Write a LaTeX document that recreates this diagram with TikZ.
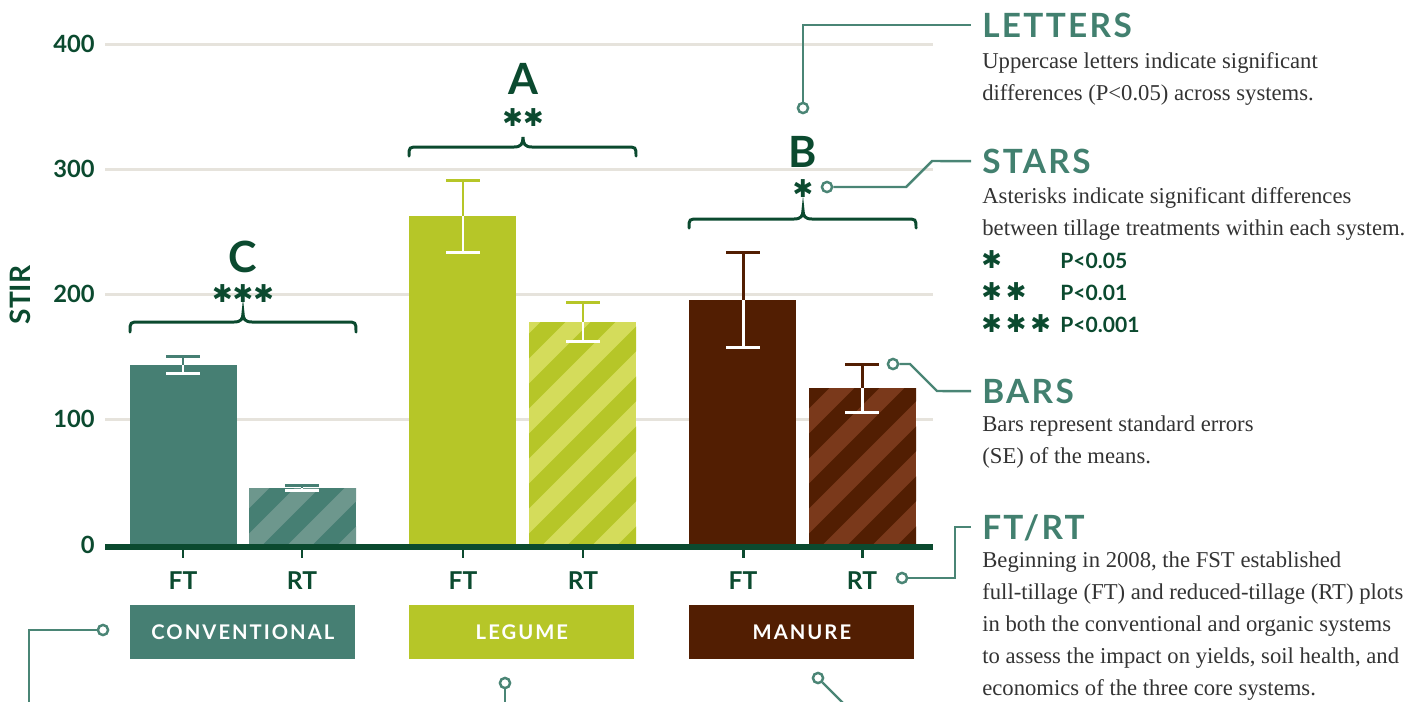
\documentclass[tikz,border=0pt]{standalone}
\usepackage{fontspec}
\setmainfont{Liberation Serif}
\newfontfamily\sansbf{Lato}[UprightFont=* Bold]
\newfontfamily\headbf{Lato}[UprightFont=* Bold, LetterSpace=7]
\newfontfamily\catbf{Lato}[UprightFont=* Bold, LetterSpace=10]
\newfontfamily\starfont{DejaVu Sans}

\definecolor{stirgreen}{HTML}{0B4A2F}
\definecolor{convteal}{HTML}{467F73}
\definecolor{convlight}{HTML}{6D978D}
\definecolor{legfill}{HTML}{B6C628}
\definecolor{leglight}{HTML}{D4DC5B}
\definecolor{manfill}{HTML}{521E02}
\definecolor{manlight}{HTML}{7A391B}
\definecolor{callteal}{HTML}{4A8575}
\definecolor{headteal}{HTML}{42806F}
\definecolor{gridgray}{HTML}{E6E3DC}
\definecolor{bodygray}{HTML}{333333}

% plain bar, hatched bar and error bar (x0, x1, top, ...)
\newcommand{\plainbar}[4]{\fill[#4] (#1,546) rectangle (#2,#3);}
\newcommand{\hatchbar}[5]{%
  \fill[#4] (#1,546) rectangle (#2,#3);
  \begin{scope}
    \clip (#1,546) rectangle (#2,#3);
    \foreach \c in {-450,-400,...,150}
      \draw[#5, line width=10pt] (#1+\c-60,606) -- (#1+\c+400,146);
  \end{scope}}
\newcommand{\errbar}[5]{%
  \draw[#5, line width=1.7pt] (#1,#2) -- (#1,#4);
  \draw[#5, line width=1.7pt] (#1-17,#2) -- (#1+17,#2);
  \draw[white, line width=1.7pt] (#1,#4) -- (#1,#3);
  \draw[white, line width=1.7pt] (#1-17,#3) -- (#1+17,#3);}
% curly bracket: x0, x1, xm, y of line, y of ends, y of tip
\newcommand{\groupbrace}[6]{%
  \draw[bracket] (#1,#5) .. controls (#1,#4) .. (#1+10,#4) -- (#3-9,#4)
    .. controls (#3-2,#4) and (#3,#4-3) .. (#3,#6)
    .. controls (#3,#4-3) and (#3+2,#4) .. (#3+9,#4) -- (#2-10,#4)
    .. controls (#2,#4) .. (#2,#5);}

\tikzset{
  gridline/.style={gridgray, line width=1.7pt},
  bracket/.style={stirgreen, line width=1.7pt, line cap=round},
  callout/.style={callteal, line width=1.4pt},
  calldot/.style={circle, draw=callteal, fill=white, line width=1.4pt, inner sep=0pt, minimum size=5.8pt},
  ticklab/.style={font=\sansbf\fontsize{13.5}{16}\selectfont, text=stirgreen, anchor=base east, inner sep=0pt},
  tillage/.style={font=\sansbf\fontsize{14}{16}\selectfont, text=stirgreen, anchor=base, inner sep=0pt},
  sigletter/.style={font=\sansbf\fontsize{24.5}{27}\selectfont, text=stirgreen, anchor=base, inner sep=0pt},
  sigstar/.style={font=\starfont\fontsize{14}{16}\selectfont, text=stirgreen, anchor=base, inner sep=0pt},
  catbox/.style={font=\catbf\fontsize{11.5}{14}\selectfont, text=white, minimum width=128.1pt, minimum height=30.6pt, inner sep=0pt, anchor=north west},
  legendhead/.style={font=\headbf\fontsize{19}{22}\selectfont, text=headteal, anchor=base west, inner xsep=6.2pt, inner ysep=0pt, text height=13.6pt, text depth=0pt},
  legendbody/.style={font=\fontsize{12.9}{18.14}\selectfont, text=bodygray, align=left, anchor=base west, inner sep=0pt},
  plegend/.style={font=\sansbf\fontsize{12}{14}\selectfont, text=stirgreen, anchor=base west, inner sep=0pt},
}

\begin{document}
\begin{tikzpicture}[x=0.02cm, y=-0.02cm]

	\useasboundingbox (0,0) rectangle (1427,701);

	% grid and axis
	\foreach \gy in {44,169,294,419}
		\draw[gridline] (105,\gy) -- (933,\gy);
	\node[ticklab] (t400) at (95,52.5)  {400};
	\node[ticklab] (t300) at (95,177.5) {300};
	\node[ticklab] (t200) at (95,302.5) {200};
	\node[ticklab] (t100) at (95,427.5) {100};
	\node[ticklab] (t0)   at (95,553.5) {0};
	\node[font=\sansbf\fontsize{16}{18}\selectfont, text=stirgreen, rotate=90] (stir) at (20,295) {STIR};

	% bars
	\plainbar{130}{237}{365}{convteal}
	\hatchbar{249}{356}{488}{convteal}{convlight}
	\plainbar{409}{516}{216}{legfill}
	\hatchbar{529}{636}{322}{leglight}{legfill}
	\plainbar{689}{796}{300}{manfill}
	\hatchbar{809}{916}{388}{manlight}{manfill}

	\errbar{183}{356}{373}{365}{convteal}
	\errbar{302}{485}{490}{488}{convteal}
	\errbar{463}{180}{252}{216}{legfill}
	\errbar{583}{302}{341}{322}{legfill}
	\errbar{743}{252}{347}{300}{manfill}
	\errbar{862}{364}{412}{388}{manfill}

	\draw[stirgreen, line width=3.4pt] (105,547) -- (933,547);
	\foreach \tx in {183,302,463,583,743,862}
		\draw[stirgreen, line width=1.7pt] (\tx,550) -- (\tx,558);

	\node[tillage] (ft1) at (183,589) {FT};
	\node[tillage] (rt1) at (302,589) {RT};
	\node[tillage] (ft2) at (463,589) {FT};
	\node[tillage] (rt2) at (583,589) {RT};
	\node[tillage] (ft3) at (743,589) {FT};
	\node[tillage] (rt3) at (862,589) {RT};

	% systems
	\node[catbox, fill=convteal] (conv) at (130,605) {CONVENTIONAL};
	\node[catbox, fill=legfill]  (leg)  at (409,605) {LEGUME};
	\node[catbox, fill=manfill]  (man)  at (689,605) {MANURE};

	% brackets, letters and stars
	\groupbrace{130}{356}{243}{322}{332}{313}
	\groupbrace{409}{636}{523}{147}{156}{137}
	\groupbrace{689}{916}{803}{219}{228}{210}
	\node[sigletter] (letC) at (243,272) {C};
	\node[sigletter] (letA) at (523,94)  {A};
	\node[sigletter] (letB) at (803,167) {B};
	\node[sigstar] (starC) at (243,302) {✱✱✱};
	\node[sigstar] (starA) at (523,126) {✱✱};
	\node[sigstar] (starB) at (803,197) {✱};

	% legend
	\node[legendhead] (hdLet) at (971,37) {LETTERS};
	\node[legendbody] (txLet) at (982,100) {Uppercase letters indicate significant\\differences (P<0.05) across systems.};
	\node[legendhead] (hdStar) at (971,173) {STARS};
	\node[legendbody] (txStar) at (982,235) {Asterisks indicate significant differences\\between tillage treatments within each system.};
	\node[sigstar, anchor=base west] (p1s) at (981,268) {✱};
	\node[sigstar, anchor=base west] (p2s) at (981,300) {✱\kern2.2pt✱};
	\node[sigstar, anchor=base west] (p3s) at (981,332) {✱\kern2.2pt✱\kern2.2pt✱};
	\node[plegend] (p1) at (1060,268) {P<0.05};
	\node[plegend] (p2) at (1060,300) {P<0.01};
	\node[plegend] (p3) at (1060,332) {P<0.001};
	\node[legendhead] (hdBar) at (971,403) {BARS};
	\node[legendbody] (txBar) at (982,463) {Bars represent standard errors\\(SE) of the means.};
	\node[legendhead] (hdFt) at (971,539) {FT/RT};
	\node[legendbody] (txFt) at (982,695) {Beginning in 2008, the FST established\\full-tillage (FT) and reduced-tillage (RT) plots\\in both the conventional and organic systems\\to assess the impact on yields, soil health, and\\economics of the three core systems.};

	% callouts
	\node[calldot] (dotLet)  at (803,108) {};
	\node[calldot] (dotStar) at (827,187) {};
	\node[calldot] (dotBar)  at (893,364) {};
	\node[calldot] (dotFt)   at (902,578) {};
	\node[calldot] (dotConv) at (103,630) {};
	\node[calldot] (dotLeg)  at (505,683) {};
	\node[calldot] (dotMan)  at (818,678) {};
	\coordinate (endConv) at (29,705);
	\coordinate (endLeg)  at (505,705);
	\coordinate (endMan)  at (845,705);

	\draw[callout] (dotLet.north) |- (hdLet.west);
	\draw[callout] (dotStar.east) -- (906,187) -- (932,161) -- (hdStar.west);
	\draw[callout] (dotBar.east) -- (910,364) -- (937,391) -- (hdBar.west);
	\draw[callout] (dotFt.east) -- (955,578) |- (hdFt.west);
	\draw[callout] (dotConv.west) -| (endConv);
	\draw[callout] (dotLeg.south) -- (endLeg);
	\draw[callout] (dotMan.south east) -- (endMan);

\end{tikzpicture}
\end{document}
